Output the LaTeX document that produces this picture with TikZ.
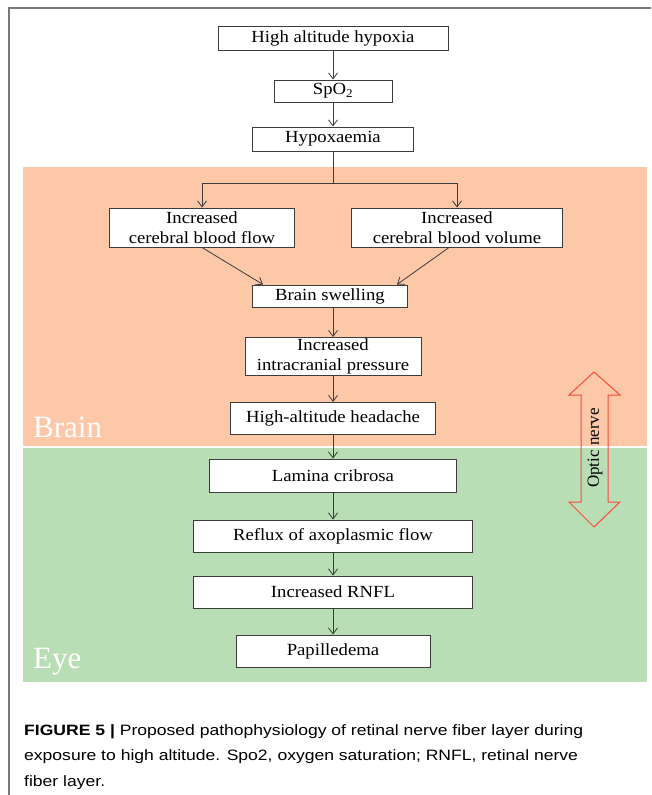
\documentclass[tikz,border=0pt]{standalone}
\usepackage{fontspec}
\setmainfont{Liberation Serif}
\newfontfamily\boxfont[FakeStretch=1.1]{Liberation Serif}
\newfontfamily\capfont[FakeStretch=1.17]{Liberation Sans}
\usetikzlibrary{arrows.meta}
\definecolor{brainbg}{RGB}{252,200,168}
\definecolor{eyebg}{RGB}{185,221,180}
\definecolor{framegray}{RGB}{120,120,120}
\definecolor{boxline}{RGB}{60,60,60}
\definecolor{nervered}{RGB}{250,75,60}

\begin{document}
\begin{tikzpicture}[x=1pt, y=-1pt,
        stepbox/.style={draw=boxline, line width=1pt, fill=white, inner sep=0pt,
                        align=center, font=\boxfont\fontsize{17}{20}\selectfont},
        flow/.style={draw=boxline, line width=0.8pt,
                     -{Straight Barb[length=6pt, width=9pt]}},
        link/.style={draw=boxline, line width=0.8pt},
        region/.style={anchor=base west, inner sep=0pt, text=white,
                       font=\fontsize{31}{31}\selectfont}]

                \useasboundingbox (0, 0) rectangle (651, 795);
                \draw[framegray, line width=1.2pt] (9, 795) -- (9, 8) -- (651, 8);
                \fill[brainbg] (23, 167) rectangle (647, 446);
                \fill[eyebg] (23, 448) rectangle (647, 682);

                \node[stepbox, minimum width=230, minimum height=24] (hypoxia) at (333, 38) {High altitude hypoxia};
                \node[stepbox, minimum width=118, minimum height=22] (spo) at (333, 91) {SpO\textsubscript{2}};
                \node[stepbox, minimum width=161, minimum height=24] (hypox) at (333, 139) {Hypoxaemia};
                \node[stepbox, minimum width=185, minimum height=39] (cbf) at (202, 227.5) {Increased\\cerebral blood flow};
                \node[stepbox, minimum width=211, minimum height=39] (cbv) at (457, 227.5) {Increased\\cerebral blood volume};
                \node[stepbox, minimum width=155, minimum height=22] (swell) at (330, 296) {Brain swelling};
                \node[stepbox, minimum width=176, minimum height=38] (icp) at (333, 356.5) {Increased\\intracranial pressure};
                \node[stepbox, minimum width=205, minimum height=32] (headache) at (333, 418.5) {High-altitude headache};
                \node[stepbox, minimum width=247, minimum height=33] (lamina) at (333, 475.5) {Lamina cribrosa};
                \node[stepbox, minimum width=279, minimum height=32] (reflux) at (333, 536) {Reflux of axoplasmic flow};
                \node[stepbox, minimum width=279, minimum height=32] (rnfl) at (333, 592) {Increased RNFL};
                \node[stepbox, minimum width=194, minimum height=32] (papil) at (333, 651) {Papilledema};

                \node[region] (brain) at (33, 437) {Brain};
                \node[region] (eye) at (33, 668) {Eye};

                \coordinate (split) at (333, 183);
                \draw[flow] (hypoxia) -- (spo);
                \draw[flow] (spo) -- (hypox);
                \draw[link] (hypox) -- (split);
                \draw[flow] (split) -| (cbf.north);
                \draw[flow] (split) -| (cbv.north);
                \draw[flow] (cbf.south) -- ([xshift=11pt]swell.north west);
                \draw[flow] ([xshift=-8pt]cbv.south) -- ([xshift=-11pt]swell.north east);
                \draw[flow] (swell.south -| icp) -- (icp);
                \draw[flow] (icp) -- (headache);
                \draw[flow] (headache) -- (lamina);
                \draw[flow] (lamina) -- (reflux);
                \draw[flow] (reflux) -- (rnfl);
                \draw[flow] (rnfl) -- (papil);

                \draw[nervered, line width=1pt]
                    (594, 372) -- (620, 395) -- (608, 395) -- (608, 502) -- (620, 502)
                    -- (594, 527) -- (569, 502) -- (581, 502) -- (581, 395) -- (569, 395) -- cycle;
                \node[rotate=90, inner sep=0pt, font=\fontsize{17}{17}\selectfont] (optic) at (595, 448) {Optic nerve};

                \node[anchor=north west, inner sep=0pt, align=left,
                      font=\capfont\fontsize{15}{25.5}\selectfont] (caption) at (24, 724)
                    {{\bfseries FIGURE 5 |} Proposed pathophysiology of retinal nerve fiber layer during\\
                     exposure to high altitude. Spo2, oxygen saturation; RNFL, retinal nerve\\
                     fiber layer.};
            \end{tikzpicture}
\end{document}
